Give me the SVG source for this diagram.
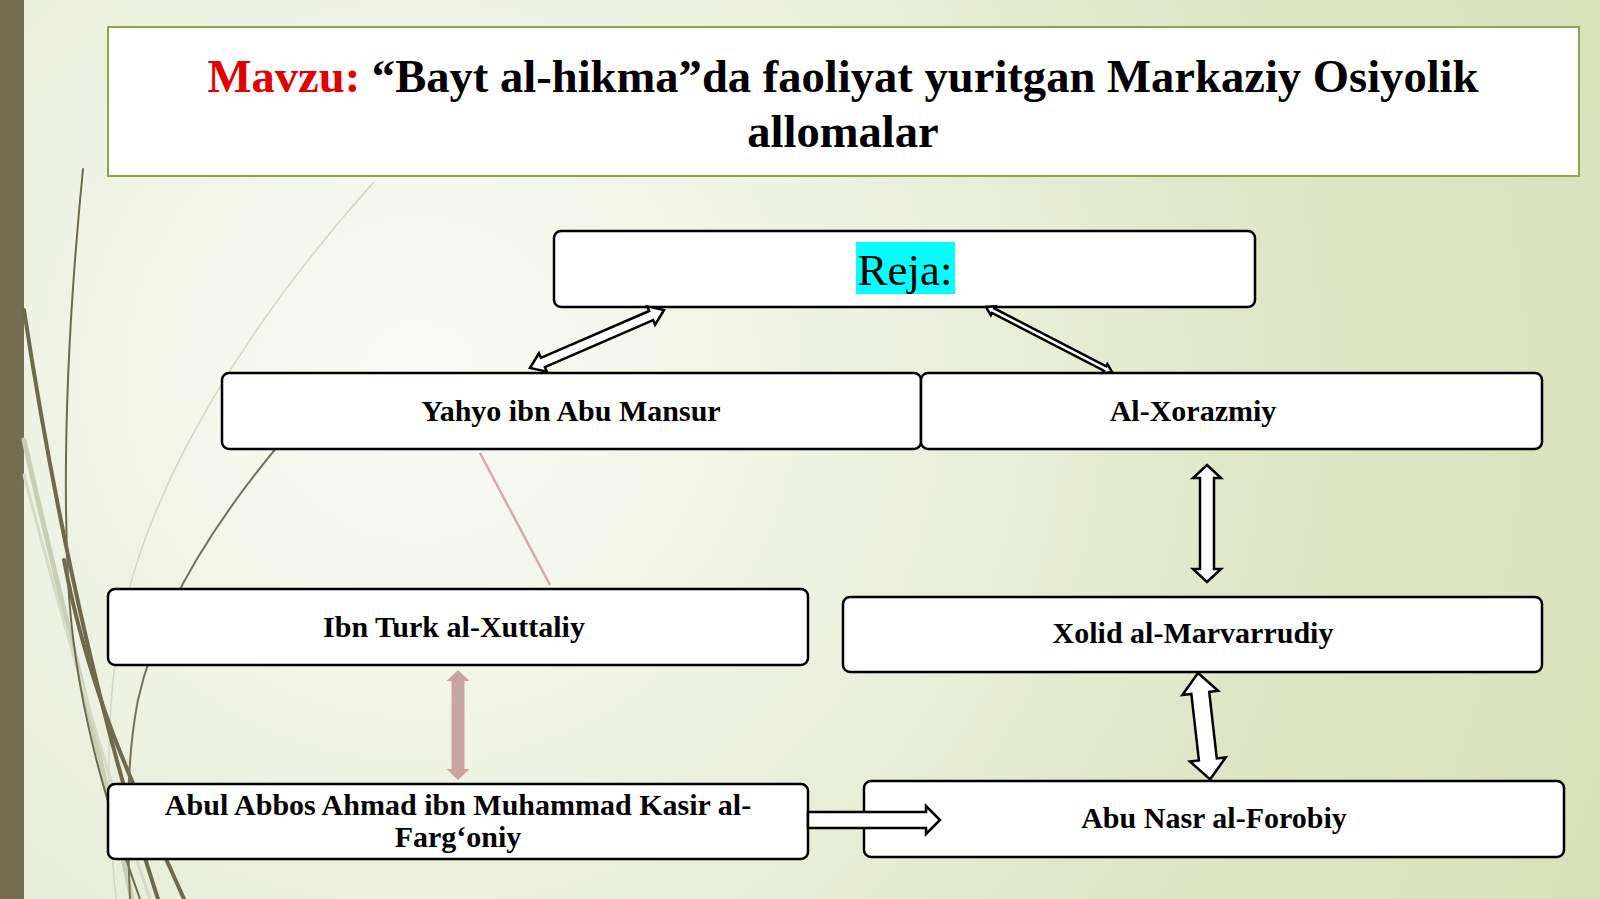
<svg xmlns="http://www.w3.org/2000/svg" width="1600" height="899" viewBox="0 0 1600 899">
<defs>
<radialGradient id="bg" cx="420" cy="380" r="1250" gradientUnits="userSpaceOnUse">
<stop offset="0" stop-color="#fafbf5"/>
<stop offset="0.35" stop-color="#eef2e1"/>
<stop offset="0.7" stop-color="#dfe6c5"/>
<stop offset="1" stop-color="#d9e1bb"/>
</radialGradient>
<style>
.box{fill:#ffffff;stroke:#000000;stroke-width:2.5}
.lbl{font-family:"Liberation Serif","Times New Roman",serif;font-weight:bold;font-size:30px;fill:#000000;text-anchor:middle}
.title{font-family:"Liberation Serif","Times New Roman",serif;font-weight:bold;font-size:46.6px;fill:#000000;text-anchor:middle}
.blk{fill:#ffffff;stroke:#000000;stroke-width:2.5;stroke-linejoin:miter}
.deco{fill:none;stroke-linecap:round}
</style>
</defs>
<rect x="0" y="0" width="1600" height="899" fill="url(#bg)"/>
<rect x="0" y="0" width="24" height="899" fill="#746d50"/>
<g id="decoration">
<path class="deco" d="M 373 183 C 250 320 150 480 122 620 C 106 700 106 800 116 899" stroke="#d3d8c4" stroke-width="1.5"/>
<path class="deco" d="M 24 440 C 60 600 100 750 132 899" stroke="#c9cfb4" stroke-width="5"/>
<path class="deco" d="M 24 475 C 70 650 112 790 150 899" stroke="#d6dac6" stroke-width="3"/>
<path class="deco" d="M 83 169 C 70 300 62 450 68 580 C 74 700 108 810 140 899" stroke="#6e6a4e" stroke-width="2"/>
<path class="deco" d="M 24 310 C 50 480 90 690 158 899" stroke="#6f6a4d" stroke-width="4"/>
<path class="deco" d="M 64 560 C 90 700 140 800 184 899" stroke="#6f6a4d" stroke-width="4"/>
<path class="deco" d="M 300 420 C 230 500 160 600 138 700 C 126 760 127 830 130 899" stroke="#76715a" stroke-width="2"/>
</g>
<g id="title">
<rect x="108" y="27" width="1471" height="149" fill="#ffffff" stroke="#8ba64d" stroke-width="2"/>
<text class="title" x="843" y="92"><tspan fill="#e00000">Mavzu:</tspan> “Bayt al-hikma”da faoliyat yuritgan Markaziy Osiyolik</text>
<text class="title" x="843" y="147">allomalar</text>
</g>
<g id="reja">
<rect class="box" x="554" y="231" width="701" height="76" rx="7"/>
<rect x="856" y="242" width="99" height="52" fill="#00ffff"/>
<text x="905" y="285" font-family="Liberation Serif, Times New Roman, serif" font-size="45" text-anchor="middle" fill="#000000">Reja:</text>
</g>
<g id="yahyo">
<rect class="box" x="222" y="373" width="699" height="76" rx="7"/>
<text class="lbl" x="571" y="421">Yahyo ibn Abu Mansur</text>
</g>
<g id="xorazmiy">
<rect class="box" x="921" y="373" width="621" height="76" rx="7"/>
<text class="lbl" x="1193" y="421">Al-Xorazmiy</text>
</g>
<g id="ibnturk">
<rect class="box" x="108" y="589" width="700" height="76" rx="7"/>
<text class="lbl" x="454" y="637">Ibn Turk al-Xuttaliy</text>
</g>
<g id="xolid">
<rect class="box" x="843" y="597" width="699" height="75" rx="7"/>
<text class="lbl" x="1193" y="643">Xolid al-Marvarrudiy</text>
</g>
<g id="abul">
<rect class="box" x="108" y="784" width="700" height="75" rx="7"/>
<text class="lbl" x="458" y="815">Abul Abbos Ahmad ibn Muhammad Kasir al-</text>
<text class="lbl" x="458" y="847">Farg‘oniy</text>
</g>
<g id="forobiy">
<rect class="box" x="864" y="781" width="700" height="76" rx="7"/>
<text class="lbl" x="1214" y="828">Abu Nasr al-Forobiy</text>
</g>
<g id="connectors">
<polygon class="blk" transform="translate(530,368) rotate(-23.4)" points="0,0 14,-10 14,-5 132,-5 132,-10 146,0 132,10 132,5 14,5 14,10"/>
<polygon class="blk" stroke-width="2" transform="translate(986,307) rotate(27.3)" points="0,0 8,-5 8,-2.5 134,-2.5 134,-5 142,0 134,5 134,2.5 8,2.5 8,5"/>
<polygon class="blk" points="1207,465 1221,478 1214,478 1214,569 1221,569 1207,582 1193,569 1200,569 1200,478 1193,478"/>
<polygon class="blk" transform="translate(1198,673) rotate(83.5)" points="0,0 20,-18 20,-9 87,-9 87,-18 107,0 87,18 87,9 20,9 20,18"/>
<polygon fill="#c9a5a2" points="458,670 469.5,681 464.5,681 464.5,769 469.5,769 458,780 446.5,769 451.5,769 451.5,681 446.5,681"/>
<line x1="480" y1="453" x2="550" y2="585" stroke="#d4a9a6" stroke-width="2.5"/>
<polygon class="blk" points="808,812 926,812 926,806 940,820 926,834 926,828 808,828"/>
</g>
</svg>
